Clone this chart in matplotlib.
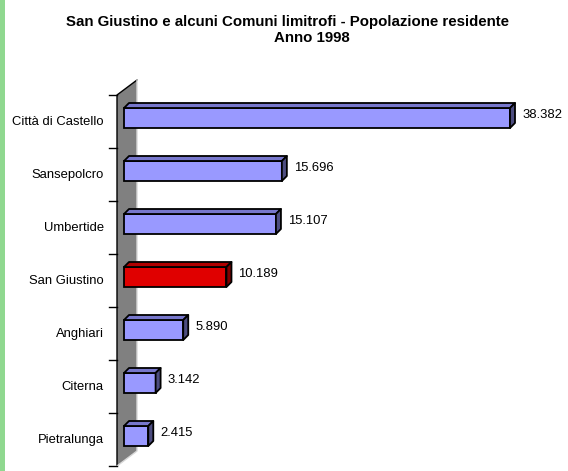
import matplotlib.pyplot as plt
from matplotlib.patches import Polygon, Rectangle

plt.rcParams['font.family'] = ['Liberation Sans', 'DejaVu Sans']

# Data
comuni = ["Città di Castello", "Sansepolcro", "Umbertide", "San Giustino",
          "Anghiari", "Citerna", "Pietralunga"]
popolazione = [38382, 15696, 15107, 10189, 5890, 3142, 2415]
value_labels = ["38.382", "15.696", "15.107", "10.189", "5.890", "3.142", "2.415"]
highlight = "San Giustino"

# Figure
W, H = 568, 471
fig = plt.figure(figsize=(W / 100, H / 100), dpi=100)
fig.patch.set_facecolor("white")

# green strip on the left edge
fig.patches.append(Rectangle((0, 0), 5 / W, 1, transform=fig.transFigure,
                             facecolor="#8fd88f", edgecolor="none"))

# pixel scale: value 0 at x=124 px, 38382 at x=510 px
s = (510 - 124) / 38382.0
x_left = -7 / s
x_right = x_left + (528 - 117) / s
ax = fig.add_axes([117 / W, 5 / H, (528 - 117) / W, 371 / H])
ax.set_xlim(x_left, x_right)
ax.set_ylim(6.5, -0.5)
ax.axis("off")

def px(n):
    return n / s

py = 1 / 53.0  # one pixel in category units

# wall
wall_dx = px(20)
wall_dy = 15 * py
wall = Polygon([(x_left, -0.5), (x_left + wall_dx, -0.5 - wall_dy),
                (x_left + wall_dx, 6.5 - wall_dy), (x_left, 6.5)],
               closed=True, facecolor="#808080", edgecolor="none", zorder=1,
               clip_on=False)
ax.add_patch(wall)
ax.plot([x_left, x_left, x_left + wall_dx], [6.5, -0.5, -0.5 - wall_dy],
        color="black", lw=1, zorder=2, clip_on=False)
ax.plot([x_left + wall_dx, x_left + wall_dx, x_left], [-0.5 - wall_dy, 6.5 - wall_dy, 6.5],
        color="#d8d8d8", lw=1, zorder=2, clip_on=False)

# ticks at category boundaries
for k in range(len(comuni) + 1):
    ax.plot([x_left - px(8), x_left], [k - 0.5, k - 0.5], color="black", lw=1,
            clip_on=False, zorder=2)

# bars
top_off = -13.5 * py
bot_off = 6.5 * py
dx = px(5)
dy = 5 * py
for i, (name, v, lab) in enumerate(zip(comuni, popolazione, value_labels)):
    if name == highlight:
        front, top, side = "#e00000", "#b00000", "#800000"
    else:
        front, top, side = "#9999ff", "#7777cc", "#4d4d80"
    t = i + top_off
    b = i + bot_off
    ax.barh(i + (top_off + bot_off) / 2, v, height=b - t, left=0, color=front,
            edgecolor="black", lw=1.3, zorder=3)
    ax.add_patch(Polygon([(0, t), (v, t), (v + dx, t - dy), (dx, t - dy)],
                         closed=True, facecolor=top, edgecolor="black", lw=1.3,
                         zorder=3, joinstyle="round"))
    ax.add_patch(Polygon([(v, t), (v + dx, t - dy), (v + dx, b - dy), (v, b)],
                         closed=True, facecolor=side, edgecolor="black", lw=1.3,
                         zorder=3, joinstyle="round"))
    ax.text(v + dx + px(7), (t + b - dy) / 2 - py, lab, ha="left", va="center",
            fontsize=9.4, color="black", clip_on=False)
    ax.text(x_left - px(13), i, name, ha="right", va="center",
            fontsize=9.4, color="black", clip_on=False)

# title
fig.text(287.5 / W, 1 - 22 / H, "San Giustino e alcuni Comuni limitrofi - Popolazione residente",
         ha="center", va="center", fontsize=10.8, fontweight="bold")
fig.text(312 / W, 1 - 38 / H, "Anno 1998",
         ha="center", va="center", fontsize=10.8, fontweight="bold")

fig.savefig("out.png", dpi=100, facecolor="white")
